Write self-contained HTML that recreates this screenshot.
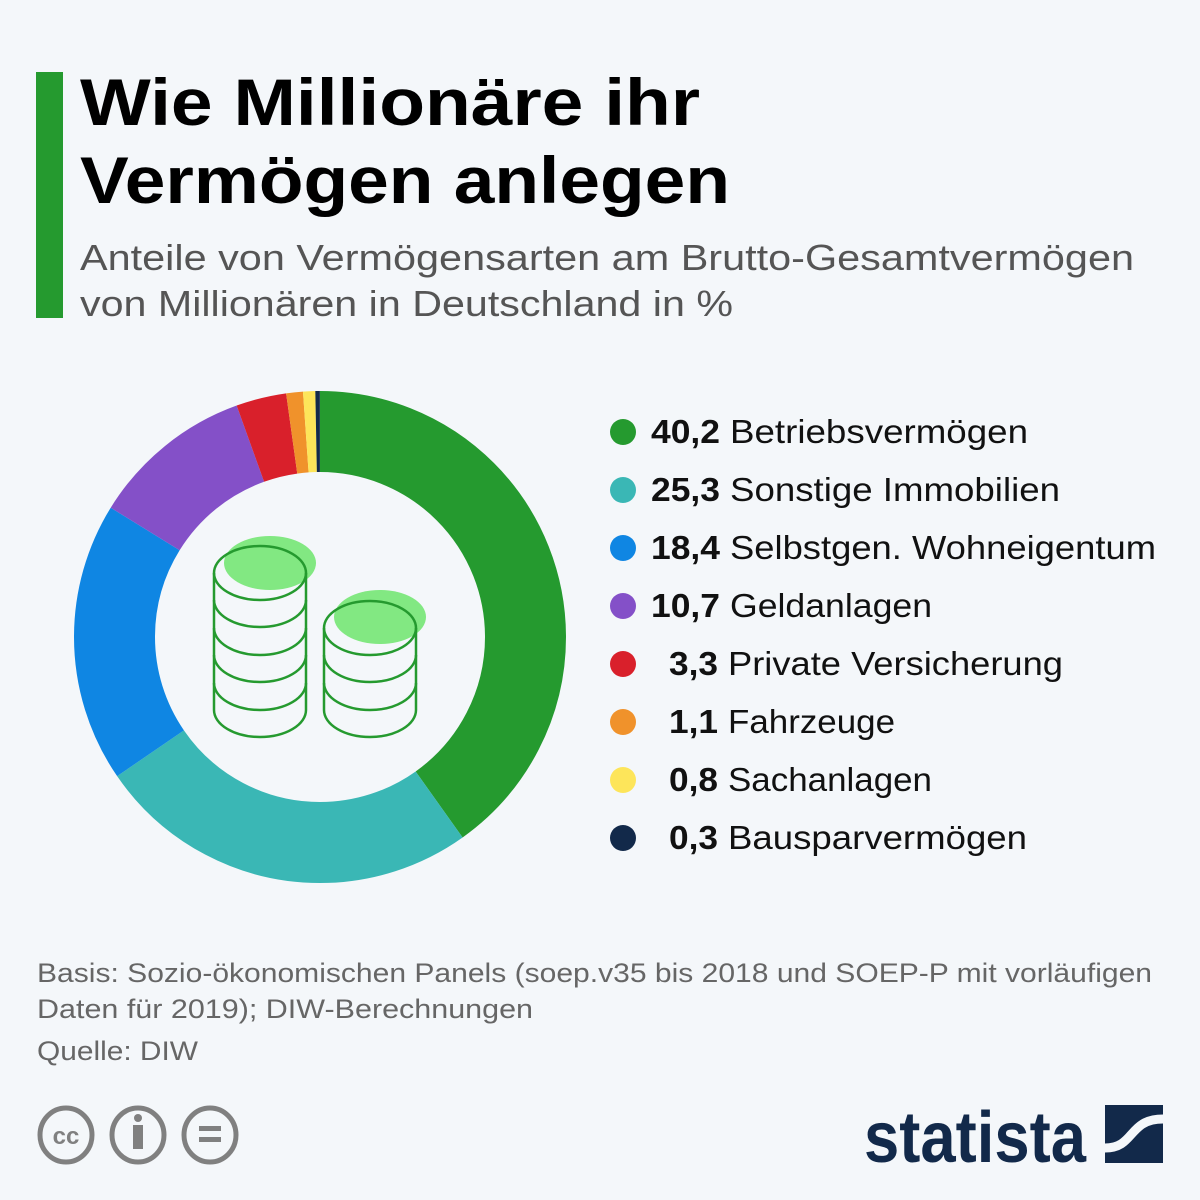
<!DOCTYPE html>
<html><head><meta charset="utf-8"><style>
body{margin:0;width:1200px;height:1200px;background:#f4f7fa;font-family:"Liberation Sans","DejaVu Sans",sans-serif;position:relative;overflow:hidden}
svg{position:absolute;left:0;top:0}
</style></head><body>
<svg width="1200" height="1200" font-family="Liberation Sans, DejaVu Sans, sans-serif">
<rect x="36" y="72" width="27" height="246" fill="#259a2f"/>
<g font-size="66" font-weight="bold" fill="#000">
<text x="80" y="125" textLength="620" lengthAdjust="spacingAndGlyphs">Wie Millionäre ihr</text>
<text x="80" y="203" textLength="650" lengthAdjust="spacingAndGlyphs">Vermögen anlegen</text>
</g>
<g font-size="36" fill="#555">
<text x="80" y="270" textLength="1054" lengthAdjust="spacingAndGlyphs">Anteile von Vermögensarten am Brutto-Gesamtvermögen</text>
<text x="80" y="316" textLength="653" lengthAdjust="spacingAndGlyphs">von Millionären in Deutschland in %</text>
</g>
<g transform="rotate(-90 320 637)" fill="none" stroke-width="81">
<circle cx="320" cy="637" r="205.5" pathLength="100.1" stroke="#259a2f" stroke-dasharray="40.2 200" stroke-dashoffset="0"/>
<circle cx="320" cy="637" r="205.5" pathLength="100.1" stroke="#3ab7b5" stroke-dasharray="25.3 200" stroke-dashoffset="-40.2"/>
<circle cx="320" cy="637" r="205.5" pathLength="100.1" stroke="#0f86e3" stroke-dasharray="18.4 200" stroke-dashoffset="-65.5"/>
<circle cx="320" cy="637" r="205.5" pathLength="100.1" stroke="#8450c8" stroke-dasharray="10.7 200" stroke-dashoffset="-83.9"/>
<circle cx="320" cy="637" r="205.5" pathLength="100.1" stroke="#d9202b" stroke-dasharray="3.3 200" stroke-dashoffset="-94.6"/>
<circle cx="320" cy="637" r="205.5" pathLength="100.1" stroke="#f0922b" stroke-dasharray="1.1 200" stroke-dashoffset="-97.9"/>
<circle cx="320" cy="637" r="205.5" pathLength="100.1" stroke="#fde55a" stroke-dasharray="0.8 200" stroke-dashoffset="-99.0"/>
<circle cx="320" cy="637" r="205.5" pathLength="100.1" stroke="#12294a" stroke-dasharray="0.3 200" stroke-dashoffset="-99.8"/>
</g>
<ellipse cx="270" cy="563" rx="46" ry="27" fill="#82e882"/>
<ellipse cx="380" cy="617" rx="46" ry="27" fill="#82e882"/>
<g fill="none" stroke="#259a2f" stroke-width="2.5">
<ellipse cx="260" cy="573" rx="46" ry="27"/>
<path d="M214 573V710M306 573V710"/>
<path d="M214 600a46 27 0 0 0 92 0M214 628a46 27 0 0 0 92 0M214 655a46 27 0 0 0 92 0M214 683a46 27 0 0 0 92 0M214 710a46 27 0 0 0 92 0"/>
<ellipse cx="370" cy="628" rx="46" ry="27"/>
<path d="M324 628V710M416 628V710"/>
<path d="M324 655a46 27 0 0 0 92 0M324 683a46 27 0 0 0 92 0M324 710a46 27 0 0 0 92 0"/>
</g>
<circle cx="623" cy="432" r="13" fill="#259a2f"/>
<circle cx="623" cy="490" r="13" fill="#3ab7b5"/>
<circle cx="623" cy="548" r="13" fill="#0f86e3"/>
<circle cx="623" cy="606" r="13" fill="#8450c8"/>
<circle cx="623" cy="664" r="13" fill="#d9202b"/>
<circle cx="623" cy="722" r="13" fill="#f0922b"/>
<circle cx="623" cy="780" r="13" fill="#fde55a"/>
<circle cx="623" cy="838" r="13" fill="#12294a"/>
<g font-size="33" fill="#111">
<g font-weight="bold">
<text x="651" y="443" textLength="69" lengthAdjust="spacingAndGlyphs">40,2</text>
<text x="651" y="501" textLength="69" lengthAdjust="spacingAndGlyphs">25,3</text>
<text x="651" y="559" textLength="69" lengthAdjust="spacingAndGlyphs">18,4</text>
<text x="651" y="617" textLength="69" lengthAdjust="spacingAndGlyphs">10,7</text>
<text x="669" y="675" textLength="49" lengthAdjust="spacingAndGlyphs">3,3</text>
<text x="669" y="733" textLength="49" lengthAdjust="spacingAndGlyphs">1,1</text>
<text x="669" y="791" textLength="49" lengthAdjust="spacingAndGlyphs">0,8</text>
<text x="669" y="849" textLength="49" lengthAdjust="spacingAndGlyphs">0,3</text>
</g>
<text x="730" y="443" textLength="298" lengthAdjust="spacingAndGlyphs">Betriebsvermögen</text>
<text x="730" y="501" textLength="330" lengthAdjust="spacingAndGlyphs">Sonstige Immobilien</text>
<text x="730" y="559" textLength="426" lengthAdjust="spacingAndGlyphs">Selbstgen. Wohneigentum</text>
<text x="730" y="617" textLength="202" lengthAdjust="spacingAndGlyphs">Geldanlagen</text>
<text x="728" y="675" textLength="335" lengthAdjust="spacingAndGlyphs">Private Versicherung</text>
<text x="728" y="733" textLength="167" lengthAdjust="spacingAndGlyphs">Fahrzeuge</text>
<text x="728" y="791" textLength="204" lengthAdjust="spacingAndGlyphs">Sachanlagen</text>
<text x="728" y="849" textLength="299" lengthAdjust="spacingAndGlyphs">Bausparvermögen</text>
</g>
<g font-size="27" fill="#666">
<text x="37" y="982" textLength="1115" lengthAdjust="spacingAndGlyphs">Basis: Sozio-ökonomischen Panels (soep.v35 bis 2018 und SOEP-P mit vorläufigen</text>
<text x="37" y="1018" textLength="496" lengthAdjust="spacingAndGlyphs">Daten für 2019); DIW-Berechnungen</text>
<text x="37" y="1060" textLength="161" lengthAdjust="spacingAndGlyphs">Quelle: DIW</text>
</g>
<g fill="none" stroke="#808080" stroke-width="5">
<ellipse cx="66" cy="1135" rx="26" ry="27"/><ellipse cx="138" cy="1135" rx="26" ry="27"/><ellipse cx="210" cy="1135" rx="26" ry="27"/>
</g>
<text x="66" y="1144" text-anchor="middle" font-size="24" font-weight="bold" fill="#808080">cc</text>
<circle cx="138" cy="1118" r="4" fill="#808080"/><rect x="133" y="1125" width="10" height="24" fill="#808080"/>
<rect x="199" y="1126" width="22" height="5" fill="#808080"/><rect x="199" y="1137" width="22" height="5" fill="#808080"/>
<text x="864" y="1162" font-size="72" font-weight="bold" fill="#12294a" textLength="222" lengthAdjust="spacingAndGlyphs">statista</text>
<rect x="1105" y="1105" width="58" height="58" fill="#12294a"/>
<path d="M1105 1148C1135 1148 1128 1119 1163 1119" fill="none" stroke="#f4f7fa" stroke-width="9"/>
</svg>
</body></html>
